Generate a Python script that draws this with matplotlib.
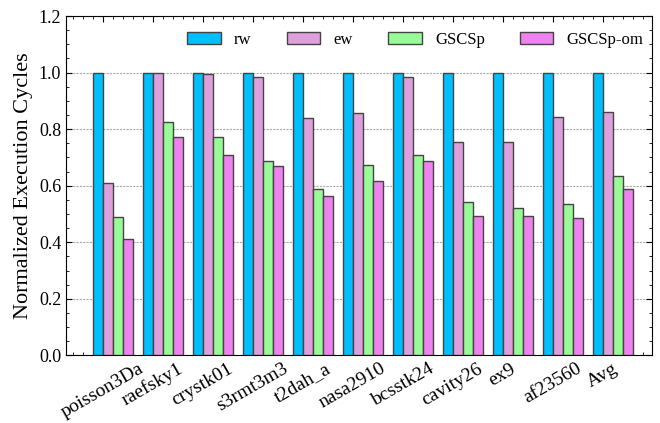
import numpy as np
import matplotlib
matplotlib.use("Agg")
import matplotlib.pyplot as plt
from matplotlib.ticker import MultipleLocator, FormatStrFormatter

plt.rcParams['font.family'] = ['Liberation Serif', 'DejaVu Serif']
plt.rcParams['font.size'] = 12

# 矩阵名称和各方法的归一化执行周期
matrices = ["poisson3Da", "raefsky1", "crystk01", "s3rmt3m3", "t2dah_a", "nasa2910",
            "bcsstk24", "cavity26", "ex9", "af23560", "Avg"]
rw = [1.0, 1.0, 1.0, 1.0, 1.0, 1.0, 1.0, 1.0, 1.0, 1.0, 1.0]
ew = [0.611, 1.0, 0.995, 0.983, 0.841, 0.858, 0.984, 0.753, 0.753, 0.844, 0.862]
gscsp = [0.490, 0.827, 0.771, 0.687, 0.587, 0.674, 0.707, 0.544, 0.521, 0.536, 0.635]
gscsp_om = [0.410, 0.774, 0.710, 0.670, 0.562, 0.616, 0.686, 0.493, 0.493, 0.484, 0.589]

series = [("rw", rw, "#00BFFF"), ("ew", ew, "#DDA0DD"),
          ("GSCSp", gscsp, "#98FB98"), ("GSCSp-om", gscsp_om, "#EE82EE")]

fig = plt.figure(figsize=(6.6, 4.23), dpi=100)
ax = fig.add_axes([0.1, 0.16, 0.888, 0.802])

x = np.arange(len(matrices))
width = 0.2
for k, (name, vals, color) in enumerate(series):
    ax.bar(x + (k - 0.5) * width, vals, width, color=color, edgecolor="#444444",
           linewidth=1.0, label=name, zorder=3)

ax.set_xlim(-0.73, 10.99)
ax.set_ylim(0, 1.2)
ax.set_xticks(x)
ax.set_xticklabels(matrices, rotation=30, ha="center", fontsize=14)
ax.xaxis.set_minor_locator(MultipleLocator(0.2))
ax.yaxis.set_major_locator(MultipleLocator(0.2))
ax.yaxis.set_minor_locator(MultipleLocator(0.05))
ax.yaxis.set_major_formatter(FormatStrFormatter("%.1f"))
ax.tick_params(which="both", direction="in", top=True, right=True)
ax.tick_params(axis="y", labelsize=13)
ax.tick_params(which="major", length=4)
ax.tick_params(which="minor", length=2)
ax.set_ylabel("Normalized Execution Cycles", fontsize=16)

# 横向虚线网格
ax.yaxis.grid(True, linestyle=(0, (2, 1)), color="#aaaaaa", linewidth=0.8, zorder=0)

ax.legend(loc="upper right", ncol=4, frameon=False, fontsize=12,
          handlelength=2.0, handletextpad=0.8, columnspacing=2.12,
          borderaxespad=0, bbox_to_anchor=(0.997, 0.974))

plt.savefig("out.png", dpi=100)
